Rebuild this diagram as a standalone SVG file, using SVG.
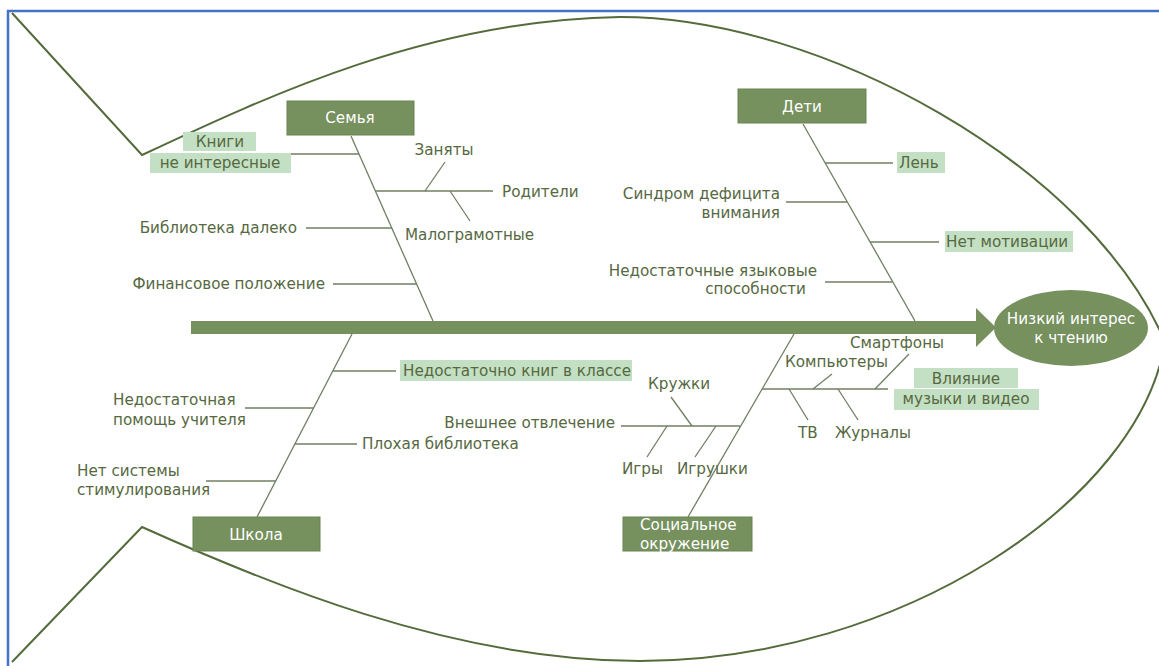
<svg xmlns="http://www.w3.org/2000/svg" width="1159" height="666" viewBox="0 0 1159 666">
<style>
.t{font-family:"DejaVu Sans",sans-serif;font-size:15.2px;fill:#56683f}
.w{font-family:"DejaVu Sans",sans-serif;font-size:15.2px;fill:#ffffff}
.box{fill:#76905e;stroke:#6a8354;stroke-width:1}
.hl{fill:#c4e0c4}
.ln{stroke:#6f7f62;stroke-width:1.3;fill:none}
.fish{stroke:#546b3c;stroke-width:2;fill:none}
</style>
<rect width="1159" height="666" fill="#ffffff"/>
<path d="M8,666 V11 H1159" fill="none" stroke="#4472c4" stroke-width="2.5"/>
<g id="fish">
<path class="fish" d="M12,13 L142,155 C270,95 430,20 620,17 C820,17 1090,165 1165,342 C1140,500 900,661 640,661 C450,661 260,580 142,527 L12,662"/>
</g>
<g id="connectors">
<rect x="191" y="321" width="786" height="13" fill="#76905e"/>
<polygon points="976,308 996,327.5 976,347" fill="#76905e"/>
<line class="ln" x1="351" y1="136" x2="433" y2="321"/>
<line class="ln" x1="291" y1="154" x2="359" y2="154"/>
<line class="ln" x1="375" y1="191" x2="493" y2="191"/>
<line class="ln" x1="425" y1="191" x2="445" y2="162"/>
<line class="ln" x1="450" y1="191" x2="470" y2="221"/>
<line class="ln" x1="306" y1="228" x2="392" y2="228"/>
<line class="ln" x1="333" y1="284" x2="417" y2="284"/>
<line class="ln" x1="803" y1="124" x2="915" y2="321"/>
<line class="ln" x1="825" y1="163" x2="893" y2="163"/>
<line class="ln" x1="786" y1="202" x2="847" y2="202"/>
<line class="ln" x1="870" y1="242" x2="939" y2="242"/>
<line class="ln" x1="825" y1="282" x2="892" y2="282"/>
<line class="ln" x1="257" y1="517" x2="352" y2="334"/>
<line class="ln" x1="333" y1="371" x2="396" y2="371"/>
<line class="ln" x1="245" y1="408" x2="314" y2="408"/>
<line class="ln" x1="295" y1="444" x2="357" y2="444"/>
<line class="ln" x1="206" y1="481" x2="276" y2="481"/>
<line class="ln" x1="688" y1="517" x2="794" y2="334"/>
<line class="ln" x1="762" y1="389" x2="888" y2="389"/>
<line class="ln" x1="813" y1="389" x2="832" y2="374"/>
<line class="ln" x1="875" y1="389" x2="909" y2="354"/>
<line class="ln" x1="789" y1="389" x2="808" y2="420"/>
<line class="ln" x1="838" y1="389" x2="858" y2="420"/>
<line class="ln" x1="621" y1="426" x2="740" y2="426"/>
<line class="ln" x1="692" y1="426" x2="671" y2="397"/>
<line class="ln" x1="667" y1="426" x2="647" y2="457"/>
<line class="ln" x1="716" y1="426" x2="695" y2="457"/>
</g>
<g id="effect">
<ellipse cx="1071" cy="328" rx="77" ry="38" fill="#76905e"/>
<text class="w" x="1071" y="324" text-anchor="middle">Низкий интерес</text>
<text class="w" x="1071" y="343" text-anchor="middle">к чтению</text>
</g>
<g id="semya">
<rect class="box" x="287" y="101" width="127" height="34"/>
<text class="w" x="350" y="123" text-anchor="middle">Семья</text>
</g>
<g id="knigi">
<rect class="hl" x="183" y="132" width="73" height="19"/>
<rect class="hl" x="150" y="153" width="141" height="20"/>
<text class="t" x="220" y="147" text-anchor="middle">Книги</text>
<text class="t" x="220" y="168" text-anchor="middle">не интересные</text>
</g>
<g id="roditeli"><text class="t" x="502" y="197">Родители</text></g>
<g id="zanyaty"><text class="t" x="444" y="155" text-anchor="middle">Заняты</text></g>
<g id="malogramotnye"><text class="t" x="405" y="240">Малограмотные</text></g>
<g id="biblioteka"><text class="t" x="297" y="233" text-anchor="end">Библиотека далеко</text></g>
<g id="finansy"><text class="t" x="325" y="289" text-anchor="end">Финансовое положение</text></g>
<g id="deti">
<rect class="box" x="738" y="89" width="128" height="34"/>
<text class="w" x="802" y="112" text-anchor="middle">Дети</text>
</g>
<g id="len">
<rect class="hl" x="897" y="152" width="48" height="21"/>
<text class="t" x="899" y="168">Лень</text>
</g>
<g id="sdvg">
<text class="t" x="780" y="199" text-anchor="end">Синдром дефицита</text>
<text class="t" x="780" y="218" text-anchor="end">внимания</text>
</g>
<g id="motivaciya">
<rect class="hl" x="945" y="231" width="128" height="21"/>
<text class="t" x="946" y="247">Нет мотивации</text>
</g>
<g id="yazyk">
<text class="t" x="817" y="276" text-anchor="end">Недостаточные языковые</text>
<text class="t" x="806" y="294" text-anchor="end">способности</text>
</g>
<g id="shkola">
<rect class="box" x="193" y="517" width="127" height="34"/>
<text class="w" x="256" y="540" text-anchor="middle">Школа</text>
</g>
<g id="knig-v-klasse">
<rect class="hl" x="400" y="360" width="232" height="21"/>
<text class="t" x="403" y="376">Недостаточно книг в классе</text>
</g>
<g id="pomosch">
<text class="t" x="113" y="405">Недостаточная</text>
<text class="t" x="113" y="425">помощь учителя</text>
</g>
<g id="plohaya"><text class="t" x="362" y="449">Плохая библиотека</text></g>
<g id="stimul">
<text class="t" x="77" y="476">Нет системы</text>
<text class="t" x="77" y="495">стимулирования</text>
</g>
<g id="social">
<rect class="box" x="623" y="517" width="129" height="34"/>
<text class="w" x="640" y="530">Социальное</text>
<text class="w" x="640" y="549">окружение</text>
</g>
<g id="vneshnee"><text class="t" x="615" y="428" text-anchor="end">Внешнее отвлечение</text></g>
<g id="kruzhki"><text class="t" x="648" y="389">Кружки</text></g>
<g id="igry"><text class="t" x="622" y="474">Игры</text></g>
<g id="igrushki"><text class="t" x="677" y="474">Игрушки</text></g>
<g id="kompyutery"><text class="t" x="785" y="367">Компьютеры</text></g>
<g id="smartfony"><text class="t" x="850" y="348">Смартфоны</text></g>
<g id="tv"><text class="t" x="798" y="438">ТВ</text></g>
<g id="zhurnaly"><text class="t" x="835" y="438">Журналы</text></g>
<g id="vliyanie">
<rect class="hl" x="914" y="368" width="104" height="20"/>
<rect class="hl" x="894" y="389" width="145" height="21"/>
<text class="t" x="966" y="384" text-anchor="middle">Влияние</text>
<text class="t" x="966" y="404" text-anchor="middle">музыки и видео</text>
</g>
</svg>
